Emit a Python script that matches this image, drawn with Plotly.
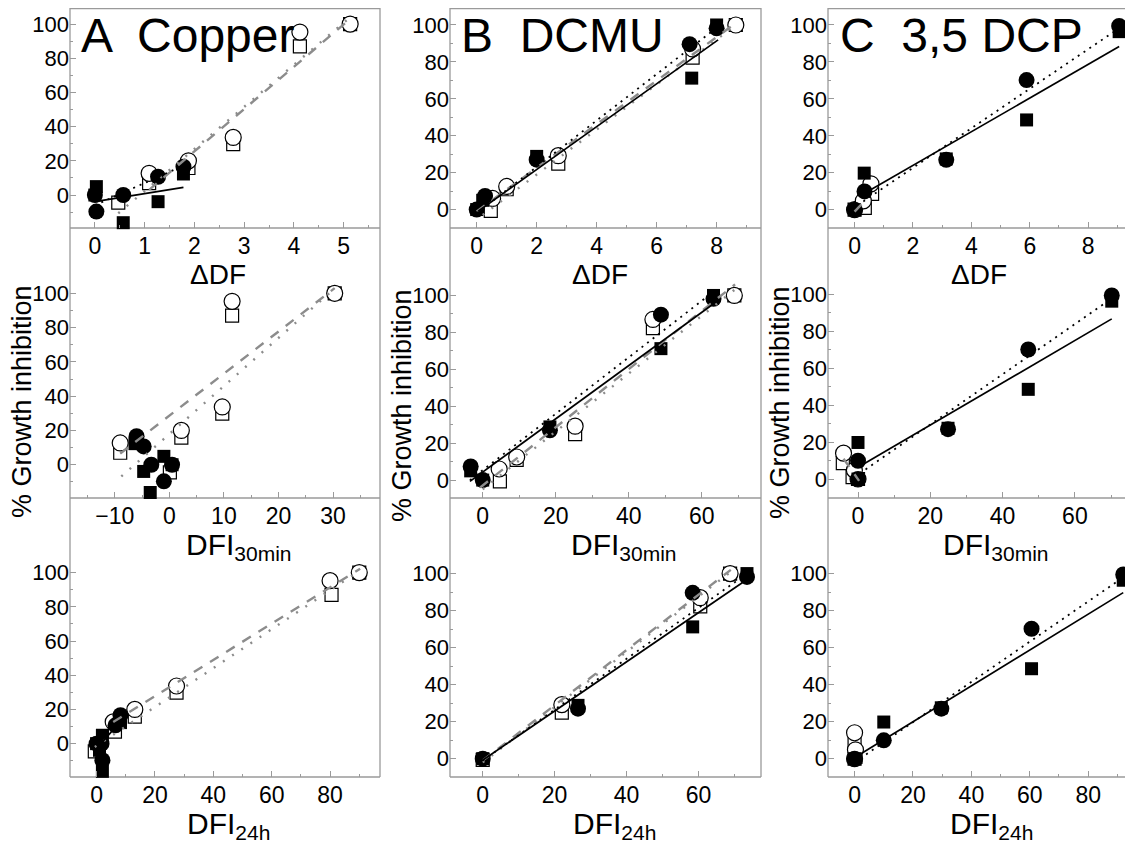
import plotly.graph_objects as go

W, H = 1133, 852
OFF = 8  # the page body margin shifts the figure by 8 px

# ================= DATA =================
# --- Copper ---
cu_fc_gi = [0, -9.7, 0, 10.7, 16.6]
cu_fc_ddf = [0, 0.03, 0.57, 1.27, 1.78]
cu_fc_dfi30 = [0.5, -1.0, -3.3, -4.7, -6.0]
cu_fc_dfi24 = [0, 2.0, 1.7, 6.5, 8.2]

cu_fs_gi = [0, 4.9, -16.2, -3.9, 12.3]
cu_fs_ddf = [0, 0.03, 0.57, 1.27, 1.78]
cu_fs_dfi30 = [0.5, -1.0, -3.5, -4.7, -6.3]
cu_fs_dfi24 = [0, 2.0, 2.0, 1.0, 8.2]

cu_oc_gi = [12.7, 20.0, 33.7, 95.3, 100]
cu_oc_ddf = [1.09, 1.88, 2.78, 4.12, 5.13]
cu_oc_dfi30 = [-9.0, 2.2, 9.7, 11.5, 30.3]
cu_oc_dfi24 = [5.7, 13.1, 27.4, 80.0, 90.0]

cu_os_gi = [-4.5, 7.0, 15.8, 29.8, 87.0, 100]
cu_os_ddf = [0.47, 1.09, 1.88, 2.78, 4.12, 5.13]
cu_os_dfi30 = [0.1, -9.0, 2.2, 9.7, 11.5, 30.3]
cu_os_dfi24 = [-0.6, 6.3, 13.1, 27.4, 80.5, 90.0]

# Copper fit lines (end points)
cu_ddf_solid_x, cu_ddf_solid_y = [0, 1.78], [-3.9, 4.5]
cu_ddf_dot_x, cu_ddf_dot_y = [0, 1.78], [-6.0, 17.2]
cu_ddf_gdash_x, cu_ddf_gdash_y = [1.09, 5.13], [3.0, 103]
cu_ddf_gdot_x, cu_ddf_gdot_y = [0.47, 5.13], [-10.7, 104]

cu_dfi30_gdash_x, cu_dfi30_gdash_y = [-9.0, 30.3], [6.5, 103]
cu_dfi30_gdot_x, cu_dfi30_gdot_y = [-8.8, 30.0], [-6.8, 102]

cu_dfi24_solid_x, cu_dfi24_solid_y = [0, 8.2], [-3.0, 13.0]
cu_dfi24_gdash_x, cu_dfi24_gdash_y = [5.7, 90.3], [12.6, 102.3]
cu_dfi24_gdot_x, cu_dfi24_gdot_y = [-0.6, 90.0], [-2.0, 101]

# --- DCMU ---
dc_fc_gi = [0, 7.4, 27.0, 89.6, 98.2]
dc_fc_ddf = [0, 0.28, 2.0, 7.1, 8.0]
dc_fc_dfi30 = [0, -3.3, 18.4, 48.8, 63.2]
dc_fc_dfi24 = [0, None, 26.5, 58.4, 73.5]

dc_fs_gi = [0, 5.0, 28.8, 71.2, 100]
dc_fs_ddf = [0, 0.2, 2.0, 7.17, 8.0]
dc_fs_dfi30 = [0, -3.3, 18.4, 48.8, 63.2]
dc_fs_dfi24 = [0, None, 26.5, 58.4, 73.5]

dc_oc_gi = [6.0, 12.5, 29.2, 87.0, 100]
dc_oc_ddf = [0.53, 1.0, 2.72, 7.2, 8.64]
dc_oc_dfi30 = [4.5, 9.3, 25.3, 46.6, 68.9]
dc_oc_dfi24 = [None, None, 22.0, 60.5, 68.8]

dc_os_gi = [-0.7, 11.0, 24.9, 82.3, 100]
dc_os_ddf = [0.47, 1.0, 2.72, 7.2, 8.64]
dc_os_dfi30 = [4.7, 9.3, 25.3, 46.6, 68.9]
dc_os_dfi24 = [0, None, 22.0, 60.5, 68.8]

dc_ddf_solid_x, dc_ddf_solid_y = [0.05, 8.05], [-0.9, 91.9]
dc_ddf_dot_x, dc_ddf_dot_y = [0, 8.2], [-2.0, 101]
dc_ddf_gdash_x, dc_ddf_gdash_y = [0, 8.64], [-1.0, 101]
dc_ddf_gdot_x, dc_ddf_gdot_y = [0.2, 8.64], [-3.0, 100]

dc_dfi30_solid_x, dc_dfi30_solid_y = [-3.5, 63.2], [-0.7, 95.5]
dc_dfi30_dot_x, dc_dfi30_dot_y = [-3.5, 63.2], [0, 102]
dc_dfi30_gdash_x, dc_dfi30_gdash_y = [-0.7, 69.1], [-4.0, 106]
dc_dfi30_gdot_x, dc_dfi30_gdot_y = [0, 68.9], [-5.0, 103]

dc_dfi24_solid_x, dc_dfi24_solid_y = [-0.75, 73.5], [-1.8, 96.8]
dc_dfi24_dot_x, dc_dfi24_dot_y = [0, 73.5], [-1.0, 100]
dc_dfi24_gdash_x, dc_dfi24_gdash_y = [0, 69.0], [-1.0, 102]
dc_dfi24_gdot_x, dc_dfi24_gdot_y = [0, 69.0], [-2.0, 101]

# --- 3,5 DCP ---
dp_fc_gi = [0, 9.9, 27.0, 70.2, 99.5]
dp_fc_ddf = [0, 0.34, 3.14, 5.89, 9.06]
dp_fc_dfi30 = [0, 0, 24.9, 47.1, 70.2]
dp_fc_dfi24 = [0, 10.0, 29.7, 60.6, 92.0]

dp_fs_gi = [0, 19.8, 27.5, 48.6, 96.4]
dp_fs_ddf = [0, 0.33, 3.14, 5.89, 9.06]
dp_fs_dfi30 = [0, 0, 24.9, 47.1, 70.2]
dp_fs_dfi24 = [0, 10.0, 29.7, 60.6, 92.0]

dp_oc_gi = [0, 4.8, 14.0]
dp_oc_ddf = [0, 0.3, 0.56]
dp_oc_dfi30 = [0, -1.0, -4.0]
dp_oc_dfi24 = [0, 0.3, 0]

dp_os_gi = [0, 1.0, 8.6]
dp_os_ddf = [0, 0.35, 0.6]
dp_os_dfi30 = [0, -1.5, -4.2]
dp_os_dfi24 = [0, 0.3, 0]

dp_ddf_solid_x, dp_ddf_solid_y = [0.3, 9.06], [8.5, 88.3]
dp_ddf_dot_x, dp_ddf_dot_y = [0.3, 8.97], [4.5, 97.3]
dp_ddf_gdash_x, dp_ddf_gdash_y = [0, 0.3], [-1.0, 4.0]

dp_dfi30_solid_x, dp_dfi30_solid_y = [0.5, 70.2], [6.9, 86.8]
dp_dfi30_dot_x, dp_dfi30_dot_y = [0.5, 70.0], [3.0, 97.6]
dp_dfi30_gdash_x, dp_dfi30_gdash_y = [-4.0, 0.3], [11.0, -1.0]

dp_dfi24_solid_x, dp_dfi24_solid_y = [0.5, 92.0], [1.0, 89.7]
dp_dfi24_dot_x, dp_dfi24_dot_y = [0, 92.0], [-2.0, 98.0]

# tick / label texts
panel_titles = ["A  Copper", "B  DCMU", "C  3,5 DCP"]
x_titles = ["\u0394DF", "DFI<sub>30min</sub>", "DFI<sub>24h</sub>"]
y_title = "% Growth inhibition"

# ================= LAYOUT GEOMETRY (pixels of the page) =================
cols_px = [(70, 380), (450, 761), (828, 1132)]
rows_px = [(8, 228), (277, 498), (556, 777)]

x_ranges = [
    [[-0.5, 5.73], [-0.89, 9.48], [-0.91, 9.5]],
    [[-18.2, 38.6], [-8.96, 76.2], [-8.3, 75.8]],
    [[-9.1, 97.1], [-9.1, 77.4], [-9.1, 95.0]],
]
y_ranges = [
    [[-19.3, 109.4], [-10, 109.2], [-9.9, 109.2]],
    [[-19.4, 109.5], [-9.7, 110], [-10.3, 109.5]],
    [[-19.5, 109.7], [-9.9, 109.5], [-9.9, 109.5]],
]
x_dticks = [[1, 2, 2], [10, 20, 20], [20, 20, 20]]

FONT = "Liberation Sans, Arial, sans-serif"
AXC = "#9a9a9a"
GRAY = "#8c8c8c"


def px2x(p):
    return min(max((p - OFF) / W, 0.0), 1.0)


def px2y(p):
    return min(max(1 - (p - OFF) / H, 0.0), 1.0)


def apx2x(p):
    return (p - OFF) / W


def apx2y(p):
    return 1 - (p - OFF) / H


# series per panel: [row][col]
series = {
    (0, 0): dict(fc=(cu_fc_ddf, cu_fc_gi), fs=(cu_fs_ddf, cu_fs_gi), oc=(cu_oc_ddf, cu_oc_gi), os=(cu_os_ddf, cu_os_gi),
                 solid=(cu_ddf_solid_x, cu_ddf_solid_y), dot=(cu_ddf_dot_x, cu_ddf_dot_y),
                 gdash=(cu_ddf_gdash_x, cu_ddf_gdash_y), gdot=(cu_ddf_gdot_x, cu_ddf_gdot_y)),
    (1, 0): dict(fc=(cu_fc_dfi30, cu_fc_gi), fs=(cu_fs_dfi30, cu_fs_gi), oc=(cu_oc_dfi30, cu_oc_gi), os=(cu_os_dfi30, cu_os_gi),
                 gdash=(cu_dfi30_gdash_x, cu_dfi30_gdash_y), gdot=(cu_dfi30_gdot_x, cu_dfi30_gdot_y)),
    (2, 0): dict(fc=(cu_fc_dfi24, cu_fc_gi), fs=(cu_fs_dfi24, cu_fs_gi), oc=(cu_oc_dfi24, cu_oc_gi), os=(cu_os_dfi24, cu_os_gi),
                 solid=(cu_dfi24_solid_x, cu_dfi24_solid_y),
                 gdash=(cu_dfi24_gdash_x, cu_dfi24_gdash_y), gdot=(cu_dfi24_gdot_x, cu_dfi24_gdot_y)),
    (0, 1): dict(fc=(dc_fc_ddf, dc_fc_gi), fs=(dc_fs_ddf, dc_fs_gi), oc=(dc_oc_ddf, dc_oc_gi), os=(dc_os_ddf, dc_os_gi),
                 solid=(dc_ddf_solid_x, dc_ddf_solid_y), dot=(dc_ddf_dot_x, dc_ddf_dot_y),
                 gdash=(dc_ddf_gdash_x, dc_ddf_gdash_y), gdot=(dc_ddf_gdot_x, dc_ddf_gdot_y)),
    (1, 1): dict(fc=(dc_fc_dfi30, dc_fc_gi), fs=(dc_fs_dfi30, dc_fs_gi), oc=(dc_oc_dfi30, dc_oc_gi), os=(dc_os_dfi30, dc_os_gi),
                 solid=(dc_dfi30_solid_x, dc_dfi30_solid_y), dot=(dc_dfi30_dot_x, dc_dfi30_dot_y),
                 gdash=(dc_dfi30_gdash_x, dc_dfi30_gdash_y), gdot=(dc_dfi30_gdot_x, dc_dfi30_gdot_y)),
    (2, 1): dict(fc=(dc_fc_dfi24, dc_fc_gi), fs=(dc_fs_dfi24, dc_fs_gi), oc=(dc_oc_dfi24, dc_oc_gi), os=(dc_os_dfi24, dc_os_gi),
                 solid=(dc_dfi24_solid_x, dc_dfi24_solid_y), dot=(dc_dfi24_dot_x, dc_dfi24_dot_y),
                 gdash=(dc_dfi24_gdash_x, dc_dfi24_gdash_y), gdot=(dc_dfi24_gdot_x, dc_dfi24_gdot_y)),
    (0, 2): dict(fc=(dp_fc_ddf, dp_fc_gi), fs=(dp_fs_ddf, dp_fs_gi), oc=(dp_oc_ddf, dp_oc_gi), os=(dp_os_ddf, dp_os_gi),
                 solid=(dp_ddf_solid_x, dp_ddf_solid_y), dot=(dp_ddf_dot_x, dp_ddf_dot_y),
                 gdash=(dp_ddf_gdash_x, dp_ddf_gdash_y)),
    (1, 2): dict(fc=(dp_fc_dfi30, dp_fc_gi), fs=(dp_fs_dfi30, dp_fs_gi), oc=(dp_oc_dfi30, dp_oc_gi), os=(dp_os_dfi30, dp_os_gi),
                 solid=(dp_dfi30_solid_x, dp_dfi30_solid_y), dot=(dp_dfi30_dot_x, dp_dfi30_dot_y),
                 gdash=(dp_dfi30_gdash_x, dp_dfi30_gdash_y)),
    (2, 2): dict(fc=(dp_fc_dfi24, dp_fc_gi), fs=(dp_fs_dfi24, dp_fs_gi), oc=(dp_oc_dfi24, dp_oc_gi), os=(dp_os_dfi24, dp_os_gi),
                 solid=(dp_dfi24_solid_x, dp_dfi24_solid_y), dot=(dp_dfi24_dot_x, dp_dfi24_dot_y)),
}

marker_styles = {
    "os": dict(symbol="square", size=13, color="white", line=dict(color="black", width=1.2)),
    "oc": dict(symbol="circle", size=16, color="white", line=dict(color="black", width=1.2)),
    "fs": dict(symbol="square", size=13, color="black", line=dict(color="black", width=0)),
    "fc": dict(symbol="circle", size=16, color="black", line=dict(color="black", width=0)),
}
line_styles = {
    "gdot": dict(color=GRAY, width=2.4, dash="2px,9px"),
    "gdash": dict(color=GRAY, width=2.4, dash="10px,9px"),
    "dot": dict(color="black", width=1.8, dash="2px,5px"),
    "solid": dict(color="black", width=1.7, dash="solid"),
}

fig = go.Figure()
layout = dict()

for r in range(3):
    for c in range(3):
        idx = r * 3 + c + 1
        xa = "xaxis" if idx == 1 else f"xaxis{idx}"
        ya = "yaxis" if idx == 1 else f"yaxis{idx}"
        xref = "x" if idx == 1 else f"x{idx}"
        yref = "y" if idx == 1 else f"y{idx}"
        x0, x1 = cols_px[c]
        y0, y1 = rows_px[r]
        dx = x_dticks[r][c]
        layout[xa] = dict(
            domain=[px2x(x0), px2x(x1)], anchor=yref, range=x_ranges[r][c],
            showgrid=False, zeroline=False, showline=False,
            ticks="inside", ticklen=6, tickwidth=1, tickcolor=AXC,
            tick0=0, dtick=dx, ticklabelstandoff=2,
            minor=dict(ticks="inside", ticklen=3, tickwidth=1, tickcolor=AXC, dtick=dx / 2, tick0=0),
            tickfont=dict(family=FONT, size=23, color="black"),
        )
        layout[ya] = dict(
            domain=[px2y(y1), px2y(y0)], anchor=xref, range=y_ranges[r][c],
            showgrid=False, zeroline=False, showline=False,
            ticks="inside", ticklen=6, tickwidth=1, tickcolor=AXC,
            tickvals=[0, 20, 40, 60, 80, 100],
            minor=dict(ticks="inside", ticklen=3, tickwidth=1, tickcolor=AXC, dtick=10, tick0=0),
            tickfont=dict(family=FONT, size=22, color="black"),
        )
        s = series[(r, c)]
        for key in ["os", "oc", "fs", "fc"]:
            xs, ys = s[key]
            fig.add_trace(go.Scatter(x=xs, y=ys, mode="markers", marker=marker_styles[key],
                                     xaxis=xref, yaxis=yref, showlegend=False, cliponaxis=False))
        for key in ["gdot", "gdash", "dot", "solid"]:
            if key in s:
                xs, ys = s[key]
                fig.add_trace(go.Scatter(x=xs, y=ys, mode="lines", line=line_styles[key],
                                         xaxis=xref, yaxis=yref, showlegend=False))

# frame lines
shapes = []
for c in range(3):
    x0, x1 = cols_px[c]
    top = rows_px[0][0]
    bottom = rows_px[2][1]
    for xx in (x0, x1):
        shapes.append(dict(type="line", xref="paper", yref="paper", x0=px2x(xx), x1=px2x(xx),
                           y0=px2y(top), y1=px2y(bottom), line=dict(color=AXC, width=1.3), layer="below"))
    for yy in (top + 0.7, rows_px[0][1], rows_px[1][1], rows_px[2][1]):
        shapes.append(dict(type="line", xref="paper", yref="paper", x0=px2x(x0), x1=px2x(x1),
                           y0=apx2y(yy), y1=apx2y(yy), line=dict(color=AXC, width=1.3), layer="below"))

annotations = []
# panel labels
label_pos = [(80, 8), (460, 8), (839, 8)]
for c in range(3):
    lx, ly = label_pos[c]
    annotations.append(dict(text=panel_titles[c], xref="paper", yref="paper", x=apx2x(lx), y=apx2y(ly),
                            xanchor="left", yanchor="top", showarrow=False, borderpad=0,
                            font=dict(family=FONT, size=48, color="black")))
# x titles
xt_pos = [
    [(218, 258), (600, 258), (979, 258)],
    [(239, 527), (624, 527), (996, 527)],
    [(229, 806), (614, 806), (991, 806)],
]
xt_size = [28, 30, 30]
for r in range(3):
    for c in range(3):
        tx, ty = xt_pos[r][c]
        annotations.append(dict(text=x_titles[r], xref="paper", yref="paper", x=apx2x(tx), y=apx2y(ty),
                                xanchor="center", yanchor="top", showarrow=False, borderpad=0,
                                font=dict(family=FONT, size=xt_size[r], color="black")))
# y titles
yt_pos = [(22, 402), (402, 406), (780, 403)]
for c in range(3):
    tx, ty = yt_pos[c]
    annotations.append(dict(text=y_title, xref="paper", yref="paper", x=apx2x(tx), y=apx2y(ty),
                            xanchor="center", yanchor="middle", textangle=-90, showarrow=False,
                            font=dict(family=FONT, size=27, color="black")))

fig.update_layout(
    width=W, height=H, margin=dict(l=0, r=0, t=0, b=0),
    paper_bgcolor="white", plot_bgcolor="white",
    shapes=shapes, annotations=annotations, showlegend=False,
    **layout,
)

fig.write_html("out.html")
